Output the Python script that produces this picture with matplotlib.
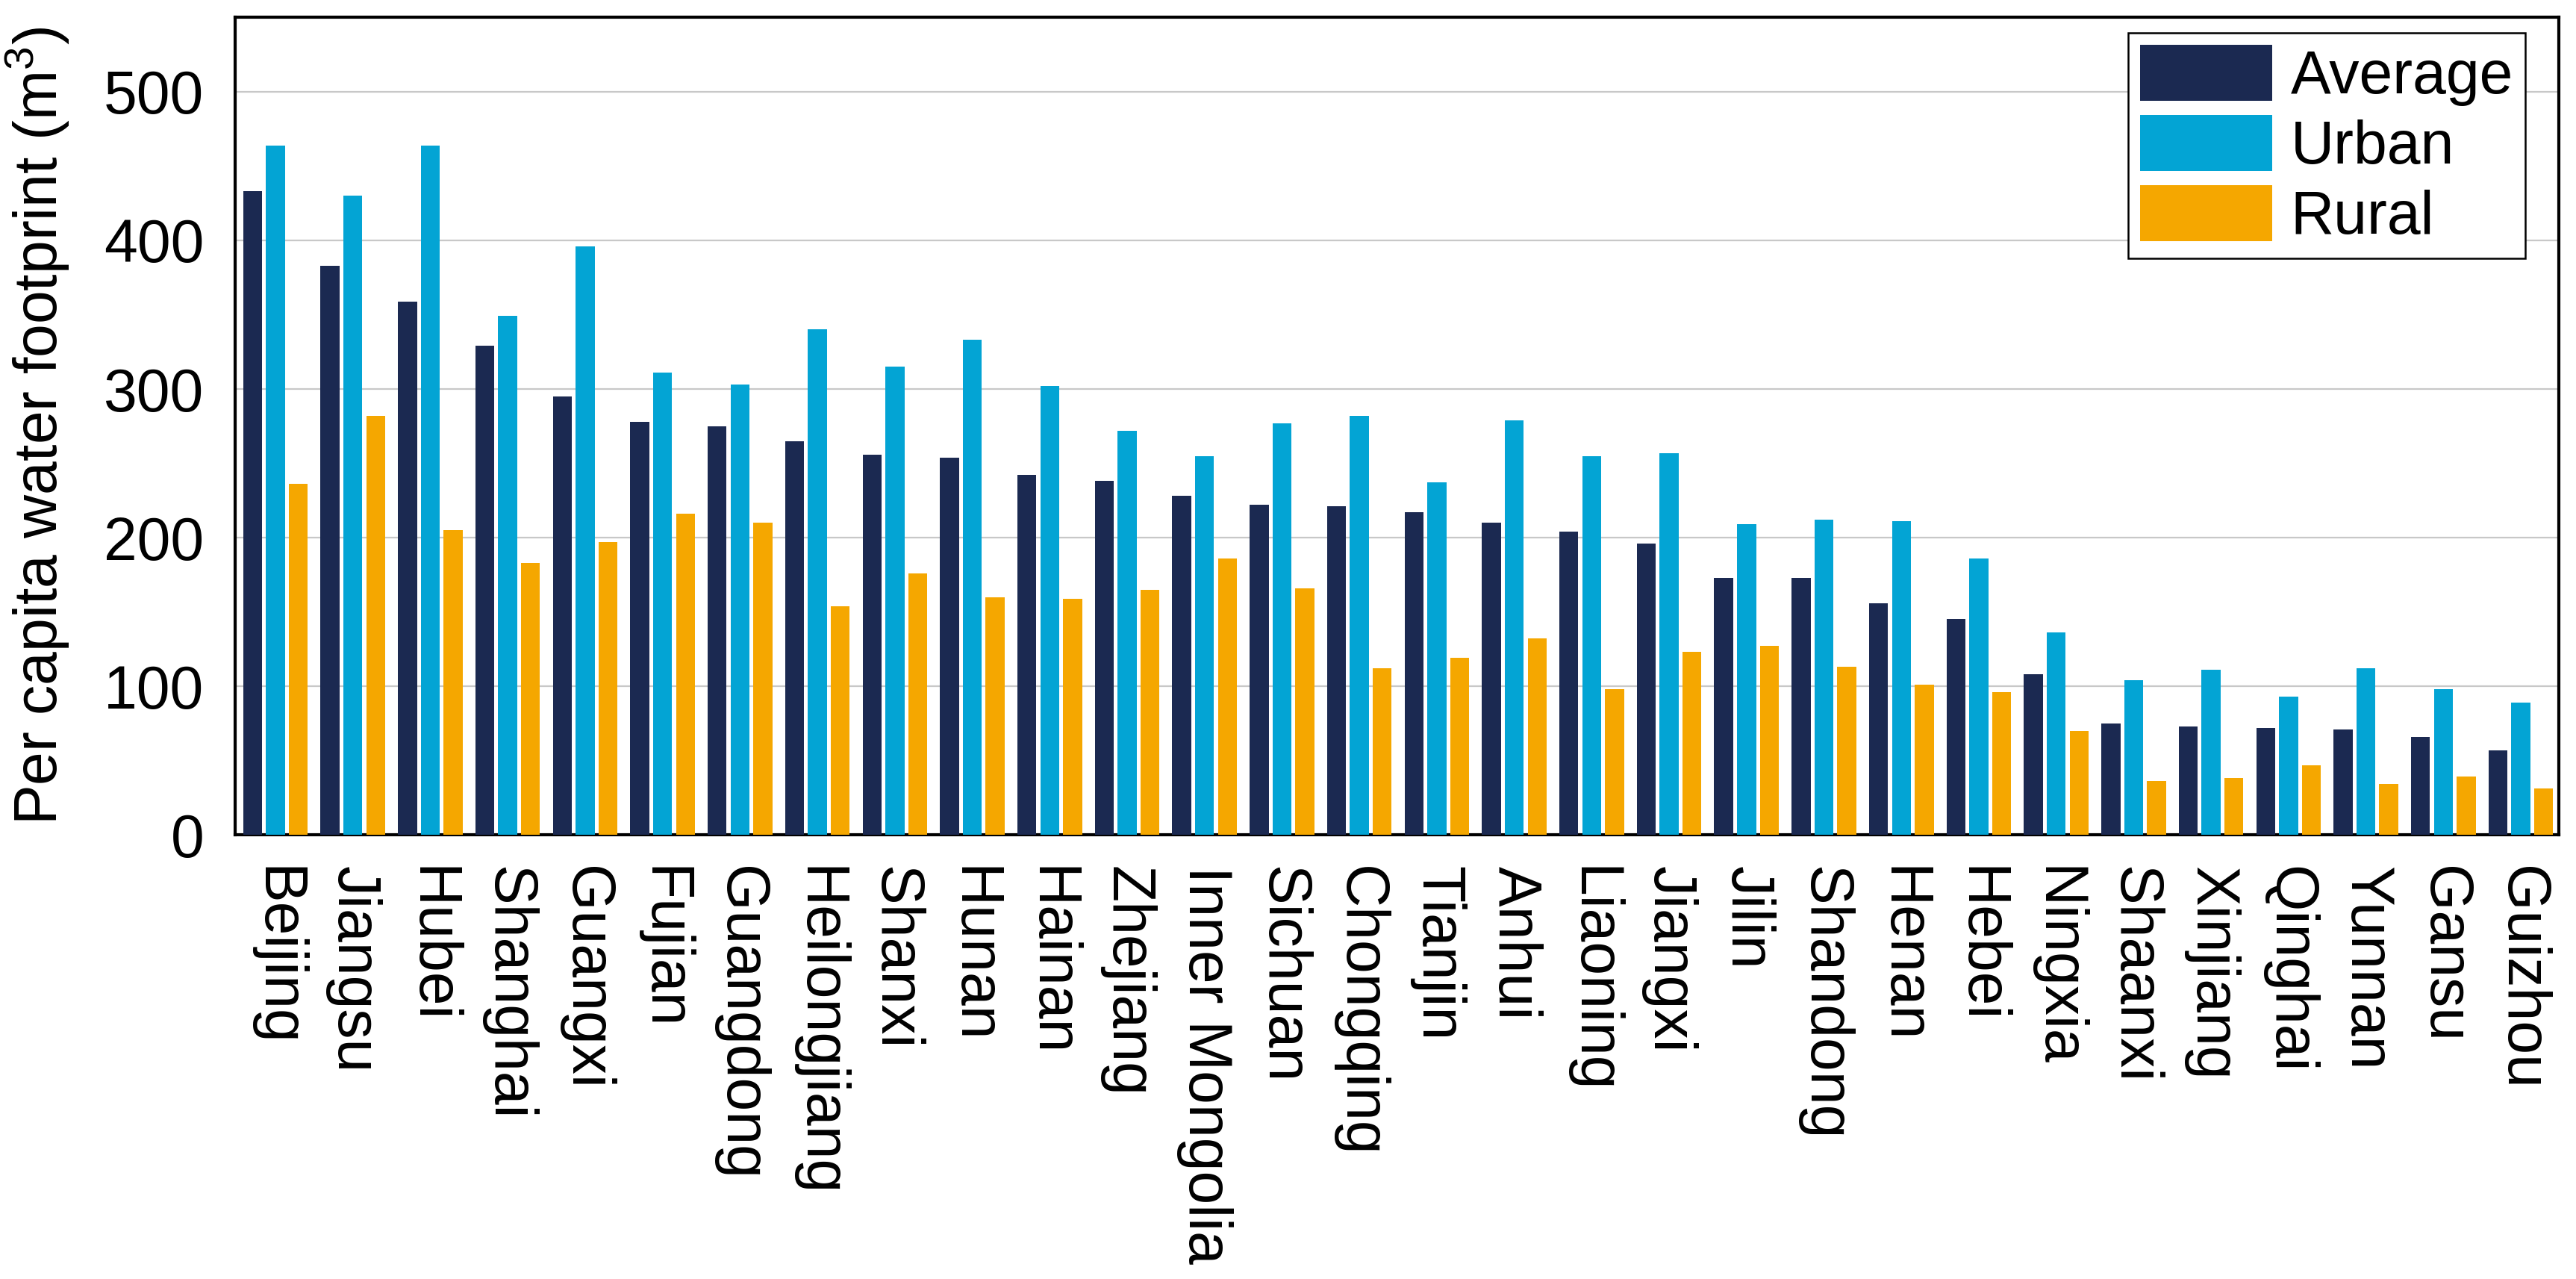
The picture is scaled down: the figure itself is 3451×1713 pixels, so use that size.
import numpy as np
import matplotlib
matplotlib.use('Agg')
import matplotlib.pyplot as plt

provinces = ['Beijing', 'Jiangsu', 'Hubei', 'Shanghai', 'Guangxi', 'Fujian',
             'Guangdong', 'Heilongjiang', 'Shanxi', 'Hunan', 'Hainan',
             'Zhejiang', 'Inner Mongolia', 'Sichuan', 'Chongqing', 'Tianjin',
             'Anhui', 'Liaoning', 'Jiangxi', 'Jilin', 'Shandong', 'Henan',
             'Hebei', 'Ningxia', 'Shaanxi', 'Xinjiang', 'Qinghai', 'Yunnan',
             'Gansu', 'Guizhou']

average = [433, 383, 359, 329, 295, 278, 275, 265, 256, 254, 242, 238, 228,
           222, 221, 217, 210, 204, 196, 173, 173, 156, 145, 108, 75, 73, 72,
           71, 66, 57]
urban = [464, 430, 464, 349, 396, 311, 303, 340, 315, 333, 302, 272, 255,
         277, 282, 237, 279, 255, 257, 209, 212, 211, 186, 136, 104, 111, 93,
         112, 98, 89]
rural = [236, 282, 205, 183, 197, 216, 210, 154, 176, 160, 159, 165, 186,
         166, 112, 119, 132, 98, 123, 127, 113, 101, 96, 70, 36, 38, 47, 34,
         39, 31]

series_names = ['Average', 'Urban', 'Rural']
colors = ['#1B2951', '#03A4D4', '#F5A700']
yticks = [0, 100, 200, 300, 400, 500]

plt.rcParams['font.family'] = ['Liberation Sans', 'DejaVu Sans']
plt.rcParams['mathtext.default'] = 'regular'
FS = 29

fig = plt.figure(figsize=(17.255, 8.565), dpi=200)
ax = fig.add_axes([0.0913, 0.3473, 0.902, 0.639])

x = np.arange(len(provinces))
width = 0.245
offset = 0.295
for i, (vals, name, col) in enumerate(zip([average, urban, rural],
                                          series_names, colors)):
    ax.bar(x + (i - 1) * offset, vals, width, color=col, label=name,
           zorder=3)

ax.set_xlim(-0.52, len(provinces) - 0.51)
ax.set_ylim(0, 550)
ax.set_yticks(yticks)
ax.set_xticks(x)
ax.set_xticklabels(provinces, rotation=-90, fontsize=FS)
ax.tick_params(axis='y', labelsize=FS, length=0, pad=15)
ax.tick_params(axis='x', length=0, pad=15)
ax.yaxis.grid(True, color='#C8C8C8', linewidth=0.8, zorder=0)
ax.set_axisbelow(True)
for sp in ax.spines.values():
    sp.set_linewidth(1.5)
    sp.set_color('black')

ax.set_ylabel('Per capita water footprint (m$^{3}$)', fontsize=FS,
              labelpad=16)

leg = ax.legend(loc='upper right', bbox_to_anchor=(3383 / 3451, 1 - 44 / 1713),
                bbox_transform=fig.transFigure, borderaxespad=0,
                fontsize=FS, fancybox=False, framealpha=1,
                edgecolor='black', handlelength=2.2, handleheight=1.05,
                labelspacing=0.15, handletextpad=0.3, borderpad=0.2)
leg.get_frame().set_linewidth(0.9)

fig.savefig('out.png', dpi=200)
